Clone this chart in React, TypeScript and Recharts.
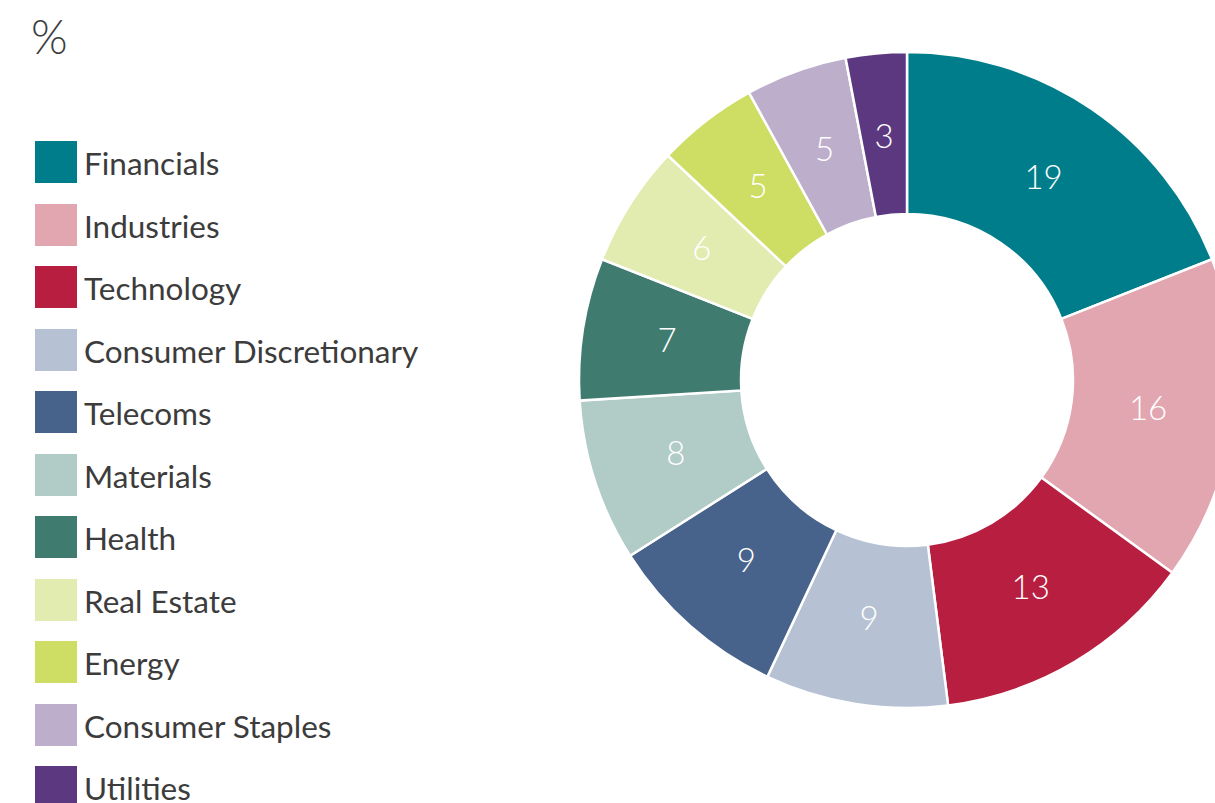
import { PieChart, Pie, Cell } from "recharts"

const sectors = [
  "Financials",
  "Industries",
  "Technology",
  "Consumer Discretionary",
  "Telecoms",
  "Materials",
  "Health",
  "Real Estate",
  "Energy",
  "Consumer Staples",
  "Utilities",
]
const weights = [19, 16, 13, 9, 9, 8, 7, 6, 5, 5, 3]
const colors = [
  "#007d8a",
  "#e2a6b1",
  "#b81e40",
  "#b6c2d3",
  "#48638b",
  "#b1cbc6",
  "#3f7b6f",
  "#e2ebb0",
  "#cedd63",
  "#bdaecc",
  "#5b3880",
]

const FONT = "Lato, 'Open Sans', sans-serif"
const TEXT = "#3c3c3c"
const RAD = Math.PI / 180

const data = sectors.map((name, i) => ({ name, value: weights[i], color: colors[i] }))

function SliceLabel(props: any) {
  const { cx, cy, midAngle, innerRadius, outerRadius, value } = props
  const r = (innerRadius + outerRadius) / 2 - 4
  const x = cx + r * Math.cos(-midAngle * RAD)
  const y = cy + r * Math.sin(-midAngle * RAD) - 3
  return (
    <text
      x={x}
      y={y}
      fill="#ffffff"
      textAnchor="middle"
      dominantBaseline="central"
      fontFamily={FONT}
      fontWeight={300}
      fontSize={33}
    >
      {value}
    </text>
  )
}

// legend kept in the reference's order (not sorted)
function SectorLegend() {
  return (
    <div style={{ position: "absolute", left: 35, top: 131 }}>
      {data.map((d) => (
        <div key={d.name} style={{ display: "flex", alignItems: "center", height: 62.5 }}>
          <div style={{ width: 42, height: 42, background: d.color, marginRight: 7 }} />
          <span
            style={{
              fontFamily: FONT,
              fontSize: 31.5,
              color: TEXT,
              marginTop: 2,
              whiteSpace: "nowrap",
            }}
          >
            {d.name}
          </span>
        </div>
      ))}
    </div>
  )
}

export default function App() {
  return (
    <div
      style={{
        position: "fixed",
        left: 0,
        top: 0,
        width: 1215,
        height: 803,
        overflow: "hidden",
        background: "#ffffff",
      }}
    >
      <div
        style={{
          position: "absolute",
          left: 31,
          top: 13,
          fontFamily: FONT,
          fontWeight: 300,
          fontSize: 47,
          color: TEXT,
          lineHeight: 1,
        }}
      >
        %
      </div>
      <SectorLegend />
      <div style={{ position: "absolute", left: 0, top: 0 }}>
        <PieChart width={1215} height={803}>
          <Pie
            data={data}
            dataKey="value"
            nameKey="name"
            cx={902}
            cy={375}
            innerRadius={166}
            outerRadius={328}
            startAngle={90}
            endAngle={-270}
            stroke="#ffffff"
            strokeWidth={2.5}
            label={SliceLabel}
            labelLine={false}
            isAnimationActive={false}
          >
            {data.map((d) => (
              <Cell key={d.name} fill={d.color} />
            ))}
          </Pie>
        </PieChart>
      </div>
    </div>
  )
}
